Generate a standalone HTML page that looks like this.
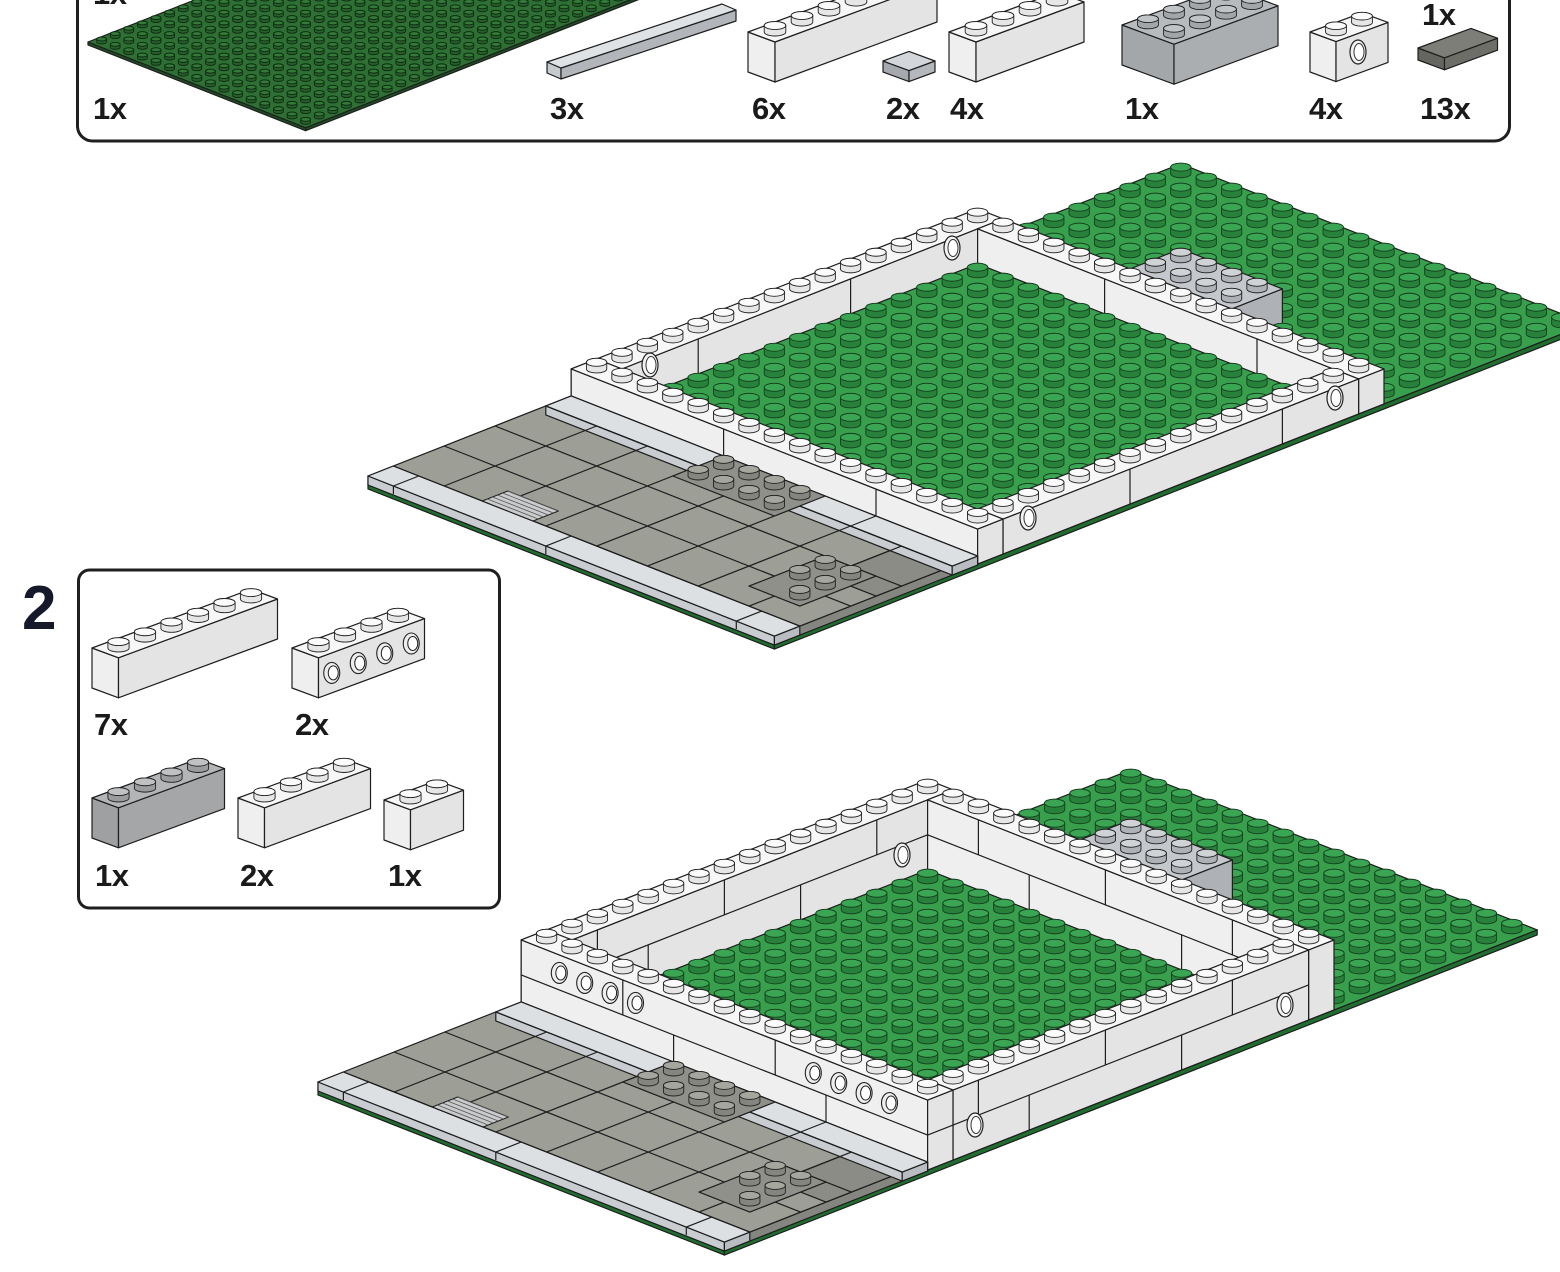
<!DOCTYPE html>
<html><head><meta charset="utf-8"><style>
html,body{margin:0;padding:0;background:#fff;}
svg{display:block;}
text{font-family:"Liberation Sans",Arial,sans-serif;font-weight:bold;fill:#1a1a1a;letter-spacing:-0.5px;}
</style></head><body>
<svg id="s" xmlns="http://www.w3.org/2000/svg" width="1560" height="1272" viewBox="0 0 1560 1272">
<defs><clipPath id="cb"><rect x="79" y="0" width="1429" height="139" rx="13"/></clipPath></defs>
<rect x="0" y="0" width="1560" height="1272" fill="#fff"/>
<rect x="77.5" y="-30" width="1432" height="171" rx="15" fill="#fff" stroke="#1f1f1f" stroke-width="3"/>
<rect x="78.5" y="570" width="421" height="338" rx="11" fill="#fff" stroke="#1f1f1f" stroke-width="3"/>
<g id="L"></g>
<text x="22" y="629" font-size="62" style="fill:#15192a">2</text>
<text x="93" y="4" font-size="31">1x</text>
<text x="93" y="119" font-size="31">1x</text>
<text x="550" y="119" font-size="31">3x</text>
<text x="752" y="119" font-size="31">6x</text>
<text x="886" y="119" font-size="31">2x</text>
<text x="950" y="119" font-size="31">4x</text>
<text x="1125" y="119" font-size="31">1x</text>
<text x="1309" y="119" font-size="31">4x</text>
<text x="1420" y="119" font-size="31">13x</text>
<text x="1422" y="25" font-size="31">1x</text>
<text x="94" y="735" font-size="31">7x</text>
<text x="295" y="735" font-size="31">2x</text>
<text x="95" y="886" font-size="31">1x</text>
<text x="240" y="886" font-size="31">2x</text>
<text x="388" y="886" font-size="31">1x</text>
</svg>
<script>
(function(){
var NS='http://www.w3.org/2000/svg';
var root=document.getElementById('L');
function mk(t,a,p){var e=document.createElementNS(NS,t);for(var k in a)e.setAttribute(k,a[k]);(p||root).appendChild(e);return e;}
function V(O,i,j,h){return [O.x+O.s*(i+j),O.y+O.s*O.k*(i-j)-h];}
function pts(a){return a.map(function(p){return p[0].toFixed(1)+','+p[1].toFixed(1);}).join(' ');}
function poly(a,fill,g,sw,st){return mk('polygon',{points:pts(a),fill:fill,stroke:st||'#1e1e1e','stroke-width':sw||1.2,'stroke-linejoin':'round'},g);}
function line(a,b,g,sw,st){return mk('line',{x1:a[0].toFixed(1),y1:a[1].toFixed(1),x2:b[0].toFixed(1),y2:b[1].toFixed(1),stroke:st||'#1e1e1e','stroke-width':sw||1.2},g);}
function box(O,i0,i1,j0,j1,h0,h1,c,g,st){
 poly([V(O,i0,j0,h0),V(O,i1,j0,h0),V(O,i1,j0,h1),V(O,i0,j0,h1)],c.fj,g,1.2,st);
 poly([V(O,i1,j0,h0),V(O,i1,j1,h0),V(O,i1,j1,h1),V(O,i1,j0,h1)],c.fi,g,1.2,st);
 poly([V(O,i0,j0,h1),V(O,i1,j0,h1),V(O,i1,j1,h1),V(O,i0,j1,h1)],c.top,g,1.2,st);
}
function stud(O,i,j,h,c,g){
 var p=V(O,i,j,h),x=p[0],y=p[1];
 var rx=O.s*(O.rf||0.40),ry=rx*O.k*(O.ryf||1),sh=O.s*(O.shf||0.26);
 var d='M'+(x-rx)+','+y+' L'+(x-rx)+','+(y-sh)+' A'+rx+' '+ry+' 0 0 1 '+(x+rx)+','+(y-sh)+' L'+(x+rx)+','+y+' A'+rx+' '+ry+' 0 0 1 '+(x-rx)+','+y+' Z';
 mk('path',{d:d,fill:c.side,stroke:c.st||'#222','stroke-width':0.9},g);
 mk('ellipse',{cx:x,cy:y-sh,rx:rx,ry:ry,fill:c.top,stroke:c.st||'#222','stroke-width':0.9},g);
}
function studs(O,cells,h,c,g){
 cells.sort(function(a,b){return (a[0]-a[1])-(b[0]-b[1]);});
 cells.forEach(function(q){stud(O,q[0]+0.5,q[1]+0.5,h,c,g);});
}
function rng(i0,i1,j0,j1,ex){var r=[];for(var i=i0;i<i1;i++)for(var j=j0;j<j1;j++){if(ex&&ex(i,j))continue;r.push([i,j]);}return r;}
function hole(x,y,g){
 mk('ellipse',{cx:x,cy:y,rx:8,ry:12,fill:'#f2f2f2',stroke:'#222','stroke-width':1.2},g);
 mk('ellipse',{cx:x+1,cy:y,rx:5,ry:8.5,fill:'#fff',stroke:'#333','stroke-width':1},g);
}
function sstud(x,y,g){
 mk('ellipse',{cx:x,cy:y,rx:8,ry:10.5,fill:'#eee',stroke:'#222','stroke-width':1.1},g);
 mk('ellipse',{cx:x+1.5,cy:y,rx:5,ry:7,fill:'#fff',stroke:'#222','stroke-width':1},g);
}
var WH={top:'#f7f7f7',fj:'#efefef',fi:'#e4e4e4'};
var SW={side:'#e6e6e6',top:'#fbfbfb'};
var GR={top:'#38a04d',fj:'#1f6e30',fi:'#1f6e30'};
var SG={side:'#27813a',top:'#3aa552',st:'#163e1f'};
var LG={top:'#c4c7cb',fj:'#b5b8bc',fi:'#aeb1b5'};
var SLG={side:'#aeb2b6',top:'#d0d3d6'};
var RD={top:'#9d9e96',fj:'#8e8f88',fi:'#85867f'};
var CU={top:'#dde0e3',fj:'#c9ccd0',fi:'#b9bcc0'};
var SGY={side:'#84857e',top:'#a5a69e'};

var gt=mk('g',{'clip-path':'url(#cb)'});
var O0={x:88,y:42,s:13.6,k:0.394,rf:0.36,shf:0.22};
box(O0,0,16,0,32,-3,0,{top:'#2e7034',fj:'#1d4d22',fi:'#1d4d22'},gt);
studs(O0,rng(0,16,0,32),0,{side:'#265f2b',top:'#337a39',st:'#0f2a12'},gt);

var g=mk('g',{'clip-path':'url(#cb)'});
poly([[547,62],[561,68],[561,79],[547,73]],'#c6cace',g);
poly([[561,68],[736,10],[736,21],[561,79]],'#b2b6ba',g);
poly([[547,62],[722,4],[736,10],[561,68]],'#dfe2e5',g);
var P=function(x,y,s){return {x:x,y:y,s:s||27,k:0.37,rf:0.40,shf:0.24};};
var o=P(748,72);box(o,0,1,0,6,0,40,WH,g);studs(o,rng(0,1,0,6),40,SW,g);
o=P(883,72,26);box(o,0,1,0,1,0,11,{top:'#d3d7db',fj:'#a6aaae',fi:'#b4b8bc'},g);
o=P(949,72);box(o,0,1,0,4,0,40,WH,g);studs(o,rng(0,1,0,4),40,SW,g);
o=P(1122,65,26);box(o,0,2,0,4,0,40,{top:'#b8bbbe',fj:'#a4a7aa',fi:'#abaeb1'},g);studs(o,rng(0,2,0,4),40,{side:'#a3a6a9',top:'#c1c4c7'},g);
o=P(1310,72,26);box(o,0,1,0,2,0,40,WH,g);studs(o,rng(0,1,0,2),40,SW,g);hole(1358,52,g);
o=P(1418,60,26.5);box(o,0,1,0,2,0,12,{top:'#7d7e78',fj:'#65665f',fi:'#6d6e68'},g);

var g2=mk('g');
o=P(92,688,26.5);box(o,0,1,0,6,0,40,WH,g2);studs(o,rng(0,1,0,6),40,SW,g2);
o=P(292,688,26.5);box(o,0,1,0,4,0,40,WH,g2);studs(o,rng(0,1,0,4),40,SW,g2);
for(var q=0;q<4;q++){var pp=V(o,1,q+0.5,20);sstud(pp[0],pp[1],g2);}
o=P(92,838,26.5);box(o,0,1,0,4,0,40,{top:'#b3b5b7',fj:'#9ea0a2',fi:'#a4a6a8'},g2);studs(o,rng(0,1,0,4),40,{side:'#9a9c9e',top:'#bfc1c3'},g2);
o=P(238,838,26.5);box(o,0,1,0,4,0,40,WH,g2);studs(o,rng(0,1,0,4),40,SW,g2);
o=P(384,840,26.5);box(o,0,1,0,2,0,40,WH,g2);studs(o,rng(0,1,0,2),40,SW,g2);

function assembly(O,W,holes,sideStuds){
 var g=mk('g');
 box(O,0,16,0,32,-5,0,GR,g);
 var bh=(W>40?70:35);
 studs(O,rng(0,16,24,32,function(i,j){return (i>=6&&j<26);}),0,SG,g);
 box(O,6,10,24,26,0,bh,LG,g);
 studs(O,rng(6,10,24,26),bh,SLG,g);
 studs(O,rng(10,16,24,26),0,SG,g);
 box(O,0,1,8,24,0,W,WH,g);
 box(O,1,16,23,24,0,W,WH,g);
 if(W>40){
  line(V(O,1,8,35),V(O,1,23,35),g);line(V(O,1,23,35),V(O,16,23,35),g);
  [12,18].forEach(function(j){line(V(O,1,j,0),V(O,1,j,35),g);});
  [10,15,21].forEach(function(j){line(V(O,1,j,35),V(O,1,j,70),g);});
  [5,11].forEach(function(i){line(V(O,i,23,0),V(O,i,23,35),g);});
  [3,8,13].forEach(function(i){line(V(O,i,23,35),V(O,i,23,70),g);});
 } else {
  [12,18].forEach(function(j){line(V(O,1,j,0),V(O,1,j,W),g);});
  [6,12].forEach(function(i){line(V(O,i,23,0),V(O,i,23,W),g);});
 }
 studs(O,rng(0,1,8,24).concat(rng(1,16,23,24)),W,SW,g);
 studs(O,rng(1,15,9,23),0,SG,g);
 box(O,15,16,9,23,0,W,WH,g);
 box(O,0,16,8,9,0,W,WH,g);
 if(W>40){
  line(V(O,0,8,35),V(O,16,8,35),g);line(V(O,16,8,35),V(O,16,23,35),g);
  [6,12].forEach(function(i){line(V(O,i,8,0),V(O,i,8,35),g);});
  [4,10].forEach(function(i){line(V(O,i,8,35),V(O,i,8,70),g);});
  [12,18].forEach(function(j){line(V(O,16,j,0),V(O,16,j,35),g);});
  [10,15,20].forEach(function(j){line(V(O,16,j,35),V(O,16,j,70),g);});
 } else {
  [6,12].forEach(function(i){line(V(O,i,8,0),V(O,i,8,W),g);});
  [14,20].forEach(function(j){line(V(O,16,j,0),V(O,16,j,W),g);});
 }
 studs(O,rng(15,16,9,23).concat(rng(0,16,8,9)),W,SW,g);
 holes.forEach(function(h){hole(h[0],h[1],g);});
 (sideStuds||[]).forEach(function(i){var pp=V(O,i,8,52);sstud(pp[0],pp[1],g);});
 box(O,0,16,0,8,-1,8,RD,g);
 poly([V(O,14,4,8),V(O,16,4,8),V(O,16,8,8),V(O,14,8,8)],'#8b8c85',g);
 box(O,0,16,7,8,-1,8,CU,g);
 box(O,0,16,0,1,-1,8,CU,g);
 [1,7,14.5].forEach(function(i){line(V(O,i,0,8),V(O,i,1,8),g);line(V(O,i,0,8),V(O,i,0,0),g);});
 [6,12].forEach(function(i){line(V(O,i,7,8),V(O,i,8,8),g);});
 for(var i=2;i<16;i+=2)line(V(O,i,1,8),V(O,i,7,8),g);
 [3,5].forEach(function(j){line(V(O,0,j,8),V(O,16,j,8),g);});
 line(V(O,0,1,8),V(O,16,1,8),g);line(V(O,0,7,8),V(O,16,7,8),g);
 poly([V(O,3.5,1,8),V(O,5.5,1,8),V(O,5.5,2,8),V(O,3.5,2,8)],'#c9cbcd',g,1);
 for(var t=1.2;t<2;t+=0.2)line(V(O,3.5,t,8),V(O,5.5,t,8),g,0.8,'#555');
 poly([V(O,6,6,8),V(O,10,6,8),V(O,10,8,8),V(O,6,8,8)],'#8f9089',g);
 studs(O,rng(6,10,6,8),8,SGY,g);
 poly([V(O,13,2,8),V(O,15,2,8),V(O,15,5,8),V(O,13,5,8)],'#8f9089',g);
 studs(O,rng(13,15,2,5,function(i,j){return i==13&&j==2;}),8,SGY,g);
}
assembly({x:368,y:484,s:25.4,k:0.394},35,[[650,365],[952,248],[1335,398],[1028,518]]);
assembly({x:318,y:1090,s:25.4,k:0.394},70,[[902,855],[1285,1005],[975,1125]],[1.5,2.5,3.5,4.5,11.5,12.5,13.5,14.5]);
})();
</script>
</body></html>
